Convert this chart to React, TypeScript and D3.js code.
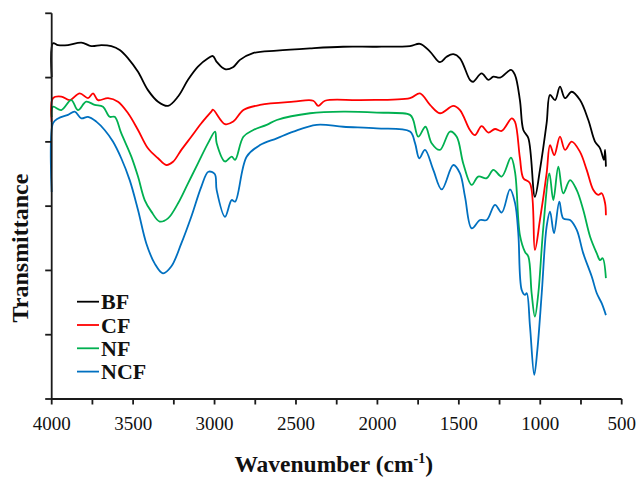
import React from 'react';
import * as d3 from 'd3';

// Wavenumber (cm-1), transmittance (a.u.)
const bf: [number, number][] = [
  [4000, 100.2], [3992, 110.7], [3961, 110.1], [3900, 110.1], [3818, 110.9], [3757, 109.8],
  [3695, 110.1], [3634, 109.8], [3582, 108.6], [3531, 106.0], [3470, 101.8], [3409, 96.1],
  [3347, 92.5], [3286, 91.2], [3224, 94.1], [3163, 99.3], [3102, 103.4], [3040, 106.0],
  [3010, 106.7], [2987, 104.9], [2936, 102.6], [2887, 103.2], [2844, 105.5], [2764, 107.6],
  [2618, 108.4], [2414, 109.1], [2211, 109.6], [2004, 109.6], [1800, 109.8], [1739, 110.5],
  [1677, 108.1], [1616, 104.8], [1575, 106.5], [1534, 107.3], [1493, 106.0], [1432, 99.3],
  [1413, 98.7], [1360, 101.3], [1319, 99.3], [1288, 100.3], [1247, 100.0], [1180, 102.4],
  [1155, 100.8], [1125, 93.0], [1104, 83.7], [1073, 81.1], [1033, 62.9], [1002, 71.3],
  [961, 85.8], [940, 94.6], [909, 93.0], [879, 97.2], [848, 93.6], [807, 95.6], [756, 93.0],
  [705, 86.8], [664, 80.1], [633, 78.0], [609, 74.4], [602, 77.5], [597, 72.3],
];

const cf: [number, number][] = [
  [4000, 86.2], [3992, 93.6], [3941, 94.1], [3889, 93.0], [3828, 95.1], [3777, 93.6],
  [3746, 95.1], [3716, 93.0], [3654, 93.6], [3593, 92.5], [3531, 88.9], [3470, 83.7],
  [3409, 78.0], [3347, 74.9], [3296, 72.8], [3255, 73.8], [3204, 77.5], [3143, 81.6],
  [3081, 85.8], [3020, 89.4], [3010, 90.0], [2936, 85.5], [2885, 86.3], [2823, 89.9],
  [2721, 91.5], [2516, 92.5], [2394, 92.8], [2363, 91.2], [2322, 92.8], [2107, 93.0],
  [1800, 93.6], [1739, 95.1], [1677, 91.5], [1616, 88.9], [1534, 91.2], [1493, 89.9],
  [1432, 83.7], [1401, 82.1], [1360, 84.9], [1319, 82.9], [1278, 84.0], [1237, 83.4],
  [1175, 87.3], [1155, 86.2], [1125, 75.0], [1104, 68.7], [1063, 67.1], [1033, 46.4],
  [1002, 55.7], [961, 70.2], [940, 79.0], [914, 75.9], [879, 81.6], [848, 77.5], [807, 80.1],
  [756, 76.9], [715, 71.3], [674, 65.0], [644, 63.5], [623, 64.0], [602, 60.9], [597, 57.2],
];

const nf: [number, number][] = [
  [4000, 87.7], [3992, 90.9], [3941, 89.9], [3880, 93.0], [3839, 89.9], [3788, 92.5],
  [3736, 91.5], [3685, 90.9], [3644, 87.8], [3613, 87.8], [3573, 82.7], [3511, 75.4],
  [3470, 69.2], [3429, 61.9], [3388, 58.3], [3337, 55.2], [3286, 56.2], [3224, 60.9],
  [3163, 67.1], [3102, 73.3], [3040, 79.6], [2997, 83.2], [2987, 79.6], [2936, 73.9],
  [2895, 75.4], [2874, 74.4], [2823, 81.6], [2762, 83.7], [2680, 85.3], [2618, 86.8],
  [2414, 88.9], [2209, 89.4], [2004, 89.1], [1800, 88.4], [1780, 86.8], [1749, 81.6],
  [1705, 84.7], [1667, 79.6], [1616, 77.5], [1554, 83.2], [1513, 81.6], [1473, 73.3],
  [1421, 66.6], [1381, 69.2], [1329, 68.7], [1288, 71.3], [1237, 69.2], [1180, 75.1],
  [1155, 70.6], [1125, 51.0], [1094, 45.8], [1073, 44.3], [1053, 32.9], [1033, 25.6],
  [1012, 32.9], [981, 53.6], [944, 70.2], [920, 61.9], [889, 72.3], [859, 64.0], [817, 68.1],
  [776, 65.0], [736, 58.8], [694, 50.5], [653, 45.3], [633, 43.2], [617, 43.8], [597, 37.6],
];

const ncf: [number, number][] = [
  [4000, 64.4], [3992, 85.8], [3961, 87.3], [3900, 88.4], [3859, 89.4], [3818, 87.3],
  [3777, 87.8], [3726, 86.3], [3675, 83.7], [3624, 80.1], [3573, 74.9], [3521, 68.1],
  [3470, 58.8], [3419, 48.4], [3368, 42.2], [3317, 39.1], [3266, 41.2], [3204, 48.4],
  [3143, 56.7], [3081, 66.1], [3038, 70.7], [2999, 70.0], [2987, 65.0], [2936, 56.7],
  [2895, 61.9], [2874, 61.4], [2803, 75.4], [2721, 79.0], [2618, 81.1], [2516, 83.2],
  [2373, 85.3], [2209, 84.7], [2004, 84.2], [1800, 83.2], [1769, 79.6], [1743, 74.9],
  [1708, 77.5], [1657, 71.3], [1605, 65.2], [1534, 72.8], [1493, 70.2], [1462, 62.9],
  [1421, 53.1], [1370, 55.7], [1329, 55.7], [1278, 60.4], [1237, 58.0], [1186, 65.2],
  [1155, 61.0], [1135, 51.6], [1114, 33.9], [1094, 32.4], [1083, 32.9], [1063, 22.5],
  [1037, 7.5], [1018, 15.2], [991, 32.9], [961, 53.6], [940, 58.3], [916, 51.6], [883, 61.4],
  [859, 56.2], [817, 55.7], [776, 52.6], [736, 45.3], [684, 38.1], [653, 32.9], [623, 29.8],
  [597, 26.1],
];

const seriesNames = ['BF', 'CF', 'NF', 'NCF'];
const seriesColors = ['#000000', '#FF0000', '#00B050', '#0070C0'];
const seriesData = [bf, cf, nf, ncf];

const xDomain: [number, number] = [4000, 500];
const yDomain: [number, number] = [0, 120];
const xLabelTicks = [4000, 3500, 3000, 2500, 2000, 1500, 1000, 500];
const xAllTicks = d3.range(4000, 499, -250);
const yTicks = d3.range(0, 121, 20);

const W = 640;
const H = 479;
const M = { left: 51.7, right: 640 - 621.7, top: 13.3, bottom: 479 - 399 };

export default function App() {
  const x = d3.scaleLinear().domain(xDomain).range([M.left, W - M.right]);
  const y = d3.scaleLinear().domain(yDomain).range([H - M.bottom, M.top]);
  const line = d3
    .line<[number, number]>()
    .x((d) => x(d[0]))
    .y((d) => y(d[1]))
    .curve(d3.curveCatmullRom.alpha(0.5));

  const font = '"Liberation Serif", "Times New Roman", serif';
  const y0 = H - M.bottom;
  const legendX = 77;
  const legendY0 = 301.7;
  const legendStep = 23.3;

  return (
    <svg
      width={W}
      height={H}
      style={{ position: 'absolute', left: 0, top: 0, background: '#fff' }}
      fontFamily={font}
    >
      <rect x={0} y={0} width={W} height={H} fill="#fff" />
      {seriesData.map((d, i) => (
        <path
          key={seriesNames[i]}
          d={line(d) || ''}
          fill="none"
          stroke={seriesColors[i]}
          strokeWidth={1.8}
          strokeLinejoin="round"
        />
      ))}
      {/* axes */}
      <g stroke="#1a1a1a" strokeWidth={1.8}>
        <line x1={M.left} x2={M.left} y1={M.top} y2={y0} />
        <line x1={M.left} x2={W - M.right} y1={y0} y2={y0} />
        {xAllTicks.map((t) => (
          <line key={'xt' + t} x1={x(t)} x2={x(t)} y1={y0} y2={y0 + 5.5} />
        ))}
        {yTicks.map((t) => (
          <line key={'yt' + t} x1={M.left - 6.5} x2={M.left} y1={y(t)} y2={y(t)} />
        ))}
      </g>
      {xLabelTicks.map((t) => (
        <text key={'xl' + t} x={x(t)} y={429.5} textAnchor="middle" fontSize={19} fill="#111">
          {t}
        </text>
      ))}
      <text
        x={(M.left + W - M.right) / 2 - 3}
        y={472}
        textAnchor="middle"
        fontSize={23.5}
        fontWeight="bold"
        fill="#111"
      >
        Wavenumber (cm
        <tspan fontSize={14} dy={-9}>-1</tspan>
        <tspan dy={9}>)</tspan>
      </text>
      <text
        transform={`translate(28,248) rotate(-90)`}
        textAnchor="middle"
        fontSize={24}
        fontWeight="bold"
        fill="#111"
      >
        Transmittance
      </text>
      {seriesNames.map((n, i) => (
        <g key={'lg' + n}>
          <line
            x1={legendX}
            x2={legendX + 22}
            y1={legendY0 + i * legendStep}
            y2={legendY0 + i * legendStep}
            stroke={seriesColors[i]}
            strokeWidth={1.8}
          />
          <text
            x={legendX + 24}
            y={legendY0 + i * legendStep + 7.6}
            fontSize={22}
            fontWeight="bold"
            fill="#111"
          >
            {n}
          </text>
        </g>
      ))}
    </svg>
  );
}
